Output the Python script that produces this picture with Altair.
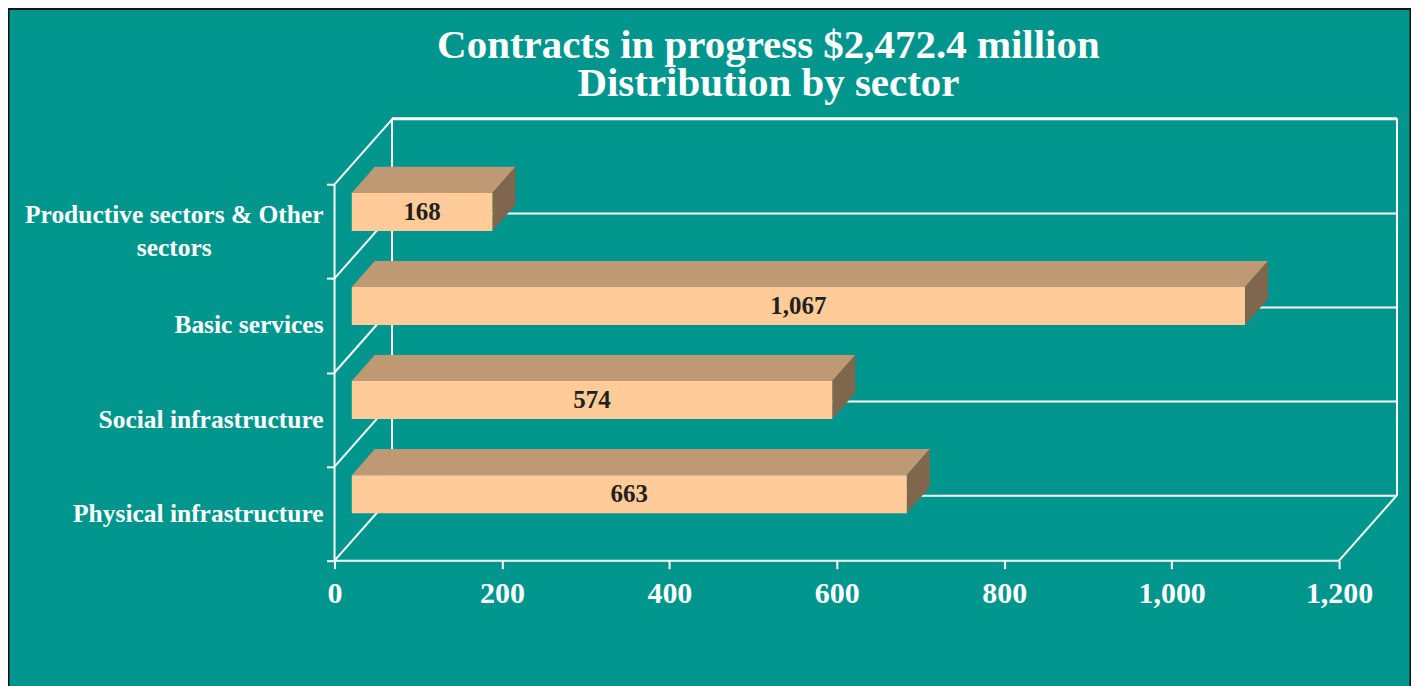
import altair as alt
import pandas as pd

categories = ["Physical infrastructure", "Social infrastructure", "Basic services",
              "Productive sectors & Other\nsectors"]
values = [663, 574, 1067, 168]
x_ticks = [0, 200, 400, 600, 800, 1000, 1200]
y_ticks = [0, 1, 2, 3, 4]
title_lines = ["Contracts in progress $2,472.4 million", "Distribution by sector"]

TEAL, WHITE = "#00968e", "#ffffff"
FRONT, TOP, SIDE = "#ffcc99", "#bf9973", "#7f664c"
SERIF = "Liberation Serif"
XMAX, YMAX = 1269.25, 4.702
DEPTH_X, DEPTH_Y = 68.7, 0.6915   # projection of the full chart depth, in axis units
D0, D1 = 0.3, 0.7                 # bar's front and back depth
HALF = 0.202                      # half bar thickness

XAXIS = alt.Axis(values=x_ticks, labelExpr="format(datum.value, ',d')", domain=False, grid=False,
                 ticks=True, tickColor=WHITE, tickSize=8, tickWidth=2, labelColor=WHITE,
                 labelFont=SERIF, labelFontWeight="bold", labelFontSize=30, labelPadding=10,
                 labelOverlap=False, labelFlush=False, title=None)
YAXIS = alt.Axis(values=y_ticks, labels=False, domain=False, grid=False, ticks=True,
                 tickColor=WHITE, tickSize=8, tickWidth=2, title=None)

def X(f="x"):
    return alt.X(f"{f}:Q", scale=alt.Scale(domain=[0, XMAX], nice=False, zero=False), axis=XAXIS)

def Y(f="y"):
    return alt.Y(f"{f}:Q", scale=alt.Scale(domain=[0, YMAX], nice=False, zero=False), axis=YAXIS)

# ---- wall / floor frame
segs = []
def seg(x, y, x2, y2):
    segs.append(dict(x=x, y=y, x2=x2, y2=y2))
seg(0, 0, 1200, 0)                                    # front floor edge
seg(0, 0, 0, y_ticks[-1])                             # left front edge
seg(1200, 0, 1200 + DEPTH_X, DEPTH_Y)                 # right floor edge
seg(DEPTH_X, DEPTH_Y, DEPTH_X, YMAX)                  # back wall left
seg(XMAX, DEPTH_Y, XMAX, YMAX)                        # back wall right
seg(DEPTH_X, YMAX, XMAX, YMAX)                        # back wall top
for t in y_ticks:
    seg(0, t, DEPTH_X, t + DEPTH_Y)                   # side wall diagonals
    seg(DEPTH_X, t + DEPTH_Y, XMAX, t + DEPTH_Y)      # back wall gridlines
frame = alt.Chart(pd.DataFrame(segs)).mark_rule(color=WHITE, strokeWidth=2).encode(
    x=X(), x2="x2:Q", y=Y(), y2="y2:Q")

# ---- bar faces
front, top, side, lab = [], [], [], []
for i, v in enumerate(values):
    c = i + 0.5
    x0, x1 = D0 * DEPTH_X, D0 * DEPTH_X + v
    yb, yt = c + D0 * DEPTH_Y - HALF, c + D0 * DEPTH_Y + HALF
    dx, dy = (D1 - D0) * DEPTH_X, (D1 - D0) * DEPTH_Y
    front.append(dict(x=x0, x2=x1, y=yb, y2=yt))
    lab.append(dict(x=(x0 + x1) / 2, y=(yb + yt) / 2, t=f"{v:,}"))
    top += [dict(b=i, y=yt, x=x0, x2=x1), dict(b=i, y=yt + dy, x=x0 + dx, x2=x1 + dx)]
    side += [dict(b=i, x=x1, y=yb, y2=yt), dict(b=i, x=x1 + dx, y=yb + dy, y2=yt + dy)]

top_l = alt.Chart(pd.DataFrame(top)).mark_area(orient="horizontal", color=TOP).encode(
    x=X(), x2="x2:Q", y=Y(), detail="b:N")
side_l = alt.Chart(pd.DataFrame(side)).mark_area(orient="vertical", color=SIDE).encode(
    x=X(), y=Y(), y2="y2:Q", detail="b:N")
front_l = alt.Chart(pd.DataFrame(front)).mark_rect(color=FRONT).encode(
    x=X(), x2="x2:Q", y=Y(), y2="y2:Q")
val_l = alt.Chart(pd.DataFrame(lab)).mark_text(
    font=SERIF, fontWeight="bold", fontSize=25, color="#231f20", baseline="middle"
).encode(x=X(), y=Y(), text="t:N")

# ---- category labels
cat_df = pd.DataFrame({"y": [i + 0.5 for i in range(len(categories))], "t": categories})
one = cat_df[~cat_df.t.str.contains("\n")]
two = cat_df[cat_df.t.str.contains("\n")]
cat1 = alt.Chart(one).mark_text(font=SERIF, fontWeight="bold", fontSize=25.5, color=WHITE,
                                align="right", baseline="middle").encode(
    x=alt.value(-11), y=Y(), text="t:N")
cat2 = alt.Chart(two).mark_text(font=SERIF, fontWeight="bold", fontSize=25.5, color=WHITE,
                                align="center", baseline="middle", lineBreak="\n", lineHeight=33,
                                dy=-16).encode(
    x=alt.value(-160.5), y=Y(), text="t:N")

# ---- chart heading
title_df = pd.DataFrame({"t": ["\n".join(title_lines)]})
heading = alt.Chart(title_df).mark_text(font=SERIF, fontWeight="bold", fontSize=41, color=WHITE,
                                        align="center", baseline="alphabetic", lineBreak="\n",
                                        lineHeight=38.5).encode(
    x=alt.value(434.5), y=alt.value(-60.5), text="t:N")

# ---- outer border
border = alt.Chart(pd.DataFrame({"a": [0]})).mark_rect(
    fillOpacity=0, stroke="#111111", strokeWidth=2
).encode(x=alt.value(-326.5), x2=alt.value(1077.5), y=alt.value(-109.5), y2=alt.value(700))

chart = alt.layer(frame, top_l, side_l, front_l, val_l, cat1, cat2, heading, border).properties(
    width=1064, height=443, background=TEAL, autosize="none",
    padding={"left": 327, "top": 110, "right": 14, "bottom": 125},
).configure_view(stroke=None)

chart.save("out.html", embed_options={"renderer": "svg", "actions": False})
